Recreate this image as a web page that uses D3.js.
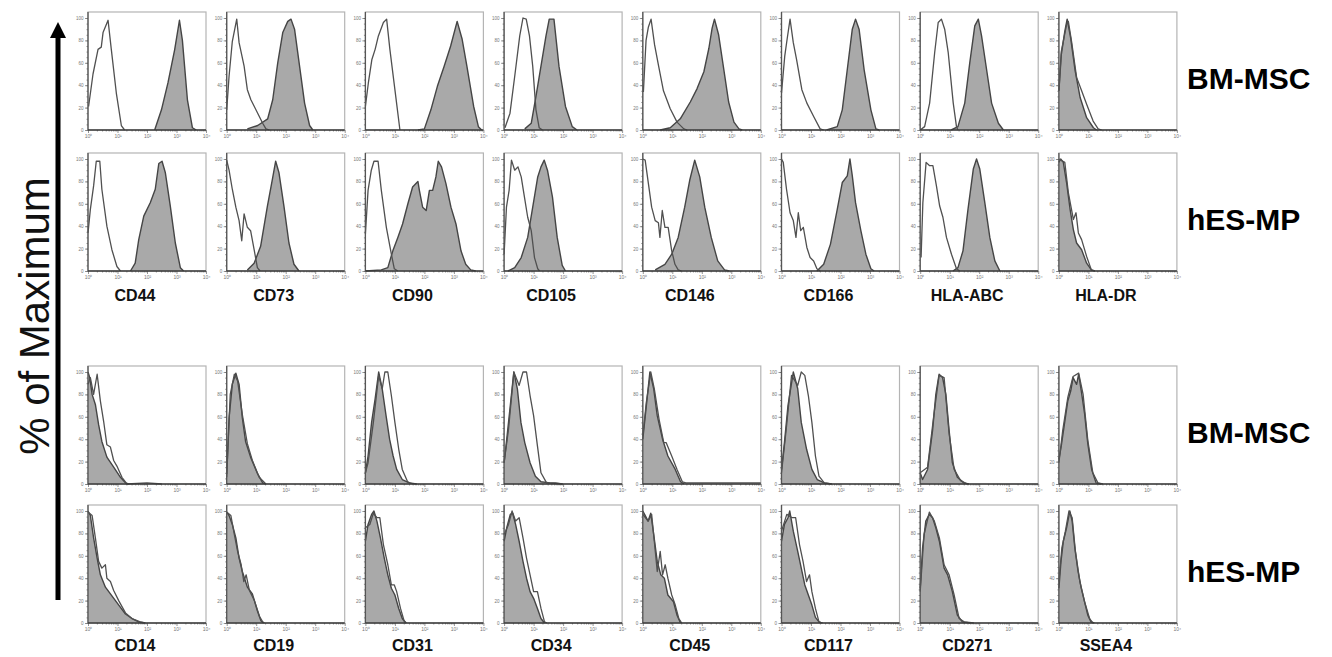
<!DOCTYPE html>
<html>
<head>
<meta charset="utf-8">
<script src="https://cdn.jsdelivr.net/npm/d3@7"></script>
<style>
  body { margin: 0; background: #fff; }
  svg { display: block; }
</style>
</head>
<body>
<div id="chart"></div>
<script>
const TOP_MARKERS = ["CD44", "CD73", "CD90", "CD105", "CD146", "CD166", "HLA-ABC", "HLA-DR"];
const BOTTOM_MARKERS = ["CD14", "CD19", "CD31", "CD34", "CD45", "CD117", "CD271", "SSEA4"];
const ROW_LABELS = ["BM-MSC", "hES-MP", "BM-MSC", "hES-MP"];
const Y_TICKS = [0, 20, 40, 60, 80, 100];
const X_TICKS = [0, 1, 2, 3, 4];
const X_TICK_LABELS = ["10\u2070", "10\u00b9", "10\u00b2", "10\u00b3", "10\u2074"];

// each histogram: [log10 fluorescence, % of max]
const bmTopStained = [
  [[2.26,0],[2.49,18],[2.71,42],[2.94,72],[3.1,98],[3.2,80],[3.37,27],[3.54,2],[3.67,0]],
  [[0.7,1],[1.05,4],[1.39,10],[1.56,27],[1.73,60],[1.9,87],[2.07,97],[2.18,99],[2.3,90],[2.47,57],[2.64,24],[2.81,4],[2.92,0]],
  [[1.78,0],[2,1],[2.22,18],[2.44,39],[2.67,57],[2.89,75],[3.11,97],[3.28,81],[3.44,57],[3.67,21],[3.83,3],[3.94,0]],
  [[0.7,1],[0.92,6],[1.08,30],[1.25,57],[1.42,84],[1.53,99],[1.69,99],[1.86,57],[2.08,21],[2.31,3],[2.47,0]],
  [[0.59,0],[0.93,2],[1.27,10],[1.61,25],[1.84,37],[2.07,52],[2.24,73],[2.35,91],[2.43,99],[2.57,85],[2.74,55],[2.91,25],[3.09,7],[3.26,1],[3.37,0]],
  [[1.53,0],[1.89,3],[2.06,18],[2.23,54],[2.4,90],[2.51,99],[2.63,90],[2.8,54],[3.03,18],[3.2,1],[3.31,0]],
  [[1.05,0],[1.28,3],[1.51,24],[1.68,60],[1.85,93],[1.97,99],[2.08,84],[2.25,54],[2.42,24],[2.65,6],[2.82,0]],
  [[0,35],[0.08,67],[0.2,88],[0.28,99],[0.4,82],[0.55,53],[0.72,29],[0.94,11],[1.17,2],[1.28,0]]
];
const bmTopIsotype = [
  [[0.02,21],[0.17,50],[0.34,72],[0.45,74],[0.51,87],[0.68,98],[0.79,72],[0.96,33],[1.13,4],[1.24,0]],
  [[0,18],[0.08,48],[0.19,79],[0.34,99],[0.42,78],[0.59,57],[0.7,36],[0.82,27],[1.05,15],[1.22,6],[1.33,1],[1.45,0]],
  [[0,21],[0.1,42],[0.22,63],[0.33,72],[0.44,84],[0.61,96],[0.72,99],[0.83,72],[1,36],[1.17,0]],
  [[0.03,2],[0.2,15],[0.36,48],[0.53,84],[0.64,100],[0.75,99],[0.86,84],[0.97,57],[1.08,18],[1.19,2],[1.3,0]],
  [[0.02,34],[0.11,80],[0.19,92],[0.28,99],[0.4,76],[0.53,58],[0.7,35],[0.93,19],[1.16,7],[1.39,1],[1.5,0]],
  [[0,33],[0.11,66],[0.19,81],[0.29,99],[0.4,78],[0.51,63],[0.69,36],[0.86,24],[1.09,12],[1.31,1],[1.43,0]],
  [[0,0],[0.15,3],[0.32,24],[0.49,69],[0.61,96],[0.72,99],[0.83,90],[0.95,69],[1.12,24],[1.23,3],[1.28,0]],
  [[0,35],[0.08,70],[0.26,94],[0.32,97],[0.43,79],[0.6,47],[0.77,35],[0.94,23],[1.16,8],[1.33,1],[1.45,0]]
];
const esTopStained = [
  [[1.44,0],[1.6,7],[1.72,28],[1.89,49],[2.11,61],[2.28,73],[2.4,96],[2.51,98],[2.62,88],[2.79,58],[2.96,25],[3.13,3],[3.24,0]],
  [[0.7,1],[0.93,7],[1.15,22],[1.38,58],[1.55,82],[1.66,98],[1.77,88],[1.94,58],[2.11,25],[2.28,6],[2.45,0]],
  [[0,0],[0.54,1],[0.76,3],[0.93,18],[1.1,30],[1.26,42],[1.44,60],[1.6,75],[1.78,80],[1.83,72],[1.94,57],[2.06,54],[2.17,72],[2.28,72],[2.39,84],[2.47,98],[2.58,93],[2.73,78],[2.9,57],[3.07,42],[3.24,18],[3.4,6],[3.57,1],[3.74,0]],
  [[0.13,0],[0.36,3],[0.58,12],[0.8,30],[0.97,57],[1.14,84],[1.25,93],[1.36,99],[1.47,90],[1.64,66],[1.8,30],[1.97,5],[2.08,0]],
  [[0.42,1],[0.75,6],[0.98,15],[1.2,30],[1.42,57],[1.59,81],[1.76,99],[1.93,84],[2.1,57],[2.32,30],[2.54,9],[2.77,1],[2.93,0]],
  [[1.2,0],[1.43,6],[1.66,24],[1.89,55],[2.06,79],[2.23,85],[2.32,100],[2.4,85],[2.51,61],[2.69,36],[2.86,15],[3.03,2],[3.14,0]],
  [[1.11,0],[1.28,3],[1.45,18],[1.62,55],[1.8,91],[1.91,100],[2.02,91],[2.19,61],[2.36,30],[2.53,9],[2.7,0]],
  [[0,97],[0.06,100],[0.15,97],[0.26,79],[0.38,55],[0.49,37],[0.6,25],[0.77,19],[0.94,7],[1.1,1],[1.22,0]]
];
const esTopIsotype = [
  [[0,34],[0.08,55],[0.19,76],[0.28,98],[0.4,98],[0.47,73],[0.64,40],[0.81,19],[0.98,4],[1.1,0]],
  [[0,99],[0.08,90],[0.19,73],[0.31,57],[0.42,45],[0.51,27],[0.59,51],[0.7,39],[0.81,36],[0.93,19],[1.04,3],[1.13,0]],
  [[0,33],[0.09,72],[0.2,90],[0.29,98],[0.43,98],[0.54,72],[0.71,39],[0.88,15],[0.98,2],[1.1,0]],
  [[0,15],[0.08,57],[0.17,72],[0.25,99],[0.36,90],[0.47,93],[0.58,84],[0.69,66],[0.8,48],[0.92,36],[1.03,12],[1.14,2],[1.2,0]],
  [[0,100],[0.08,99],[0.19,78],[0.3,57],[0.42,45],[0.53,43],[0.58,30],[0.66,54],[0.75,39],[0.86,39],[0.98,18],[1.09,6],[1.2,1],[1.31,0]],
  [[0,100],[0.06,97],[0.17,73],[0.29,52],[0.4,45],[0.49,30],[0.57,52],[0.65,36],[0.74,39],[0.86,21],[0.97,12],[1.09,9],[1.2,2],[1.31,0]],
  [[0.03,12],[0.09,61],[0.2,97],[0.32,94],[0.43,94],[0.55,76],[0.66,58],[0.77,48],[0.89,30],[1.06,15],[1.23,2],[1.34,0]],
  [[0,100],[0.2,97],[0.32,70],[0.49,46],[0.58,52],[0.66,34],[0.77,28],[0.94,13],[1.1,1],[1.22,0]]
];
const bmBottomStained = [
  [[0,100],[0.06,95],[0.14,80],[0.25,71],[0.36,53],[0.47,38],[0.64,24],[0.87,15],[1.1,6],[1.27,1],[1.38,0]],
  [[0,9],[0.08,59],[0.19,89],[0.31,99],[0.42,89],[0.53,59],[0.64,38],[0.81,24],[1.05,9],[1.22,1],[1.33,0]],
  [[0,10],[0.09,25],[0.21,55],[0.33,76],[0.45,100],[0.57,85],[0.7,61],[0.82,40],[0.94,25],[1.06,13],[1.25,4],[1.49,1],[1.74,0]],
  [[0,19],[0.09,40],[0.21,70],[0.33,100],[0.45,85],[0.57,55],[0.7,37],[0.88,19],[1.06,7],[1.25,2],[1.55,1],[1.98,0]],
  [[0,40],[0.12,70],[0.24,100],[0.37,85],[0.49,61],[0.67,40],[0.85,25],[1.1,13],[1.28,2],[1.4,0]],
  [[0,13],[0.1,37],[0.22,70],[0.4,100],[0.55,85],[0.67,55],[0.85,31],[1.03,13],[1.21,4],[1.45,1],[1.7,0]],
  [[0,10],[0.08,4],[0.25,13],[0.42,48],[0.53,80],[0.64,98],[0.76,95],[0.87,80],[0.98,48],[1.09,19],[1.26,6],[1.48,1],[1.65,0]],
  [[0,22],[0.08,34],[0.19,54],[0.3,74],[0.4,83],[0.48,95],[0.6,89],[0.67,98],[0.76,83],[0.87,63],[0.98,36],[1.11,13],[1.26,1],[1.43,0]]
];
const bmBottomIsotype = [
  [[0,89],[0.08,95],[0.19,80],[0.31,98],[0.42,74],[0.53,56],[0.64,35],[0.76,33],[0.87,21],[0.98,16],[1.15,6],[1.32,0],[2,1],[2.5,0]],
  [[0,6],[0.12,80],[0.26,98],[0.37,92],[0.53,62],[0.7,36],[0.87,21],[1.1,6],[1.33,0]],
  [[0,10],[0.09,19],[0.27,55],[0.45,97],[0.57,85],[0.66,100],[0.76,100],[0.88,79],[1,55],[1.13,31],[1.25,13],[1.43,2],[1.61,0]],
  [[0,19],[0.15,49],[0.33,100],[0.51,88],[0.64,100],[0.76,100],[0.88,79],[1,61],[1.13,34],[1.25,10],[1.44,1],[1.74,1],[1.98,0]],
  [[0,43],[0.12,73],[0.27,100],[0.39,85],[0.55,58],[0.71,37],[0.79,37],[0.98,25],[1.16,13],[1.34,2],[1.46,1],[4,1]],
  [[0,10],[0.16,49],[0.34,97],[0.55,88],[0.67,100],[0.79,97],[0.91,79],[1.03,55],[1.15,25],[1.27,7],[1.45,1],[1.7,0]],
  [[0,10],[0.25,15],[0.47,63],[0.64,97],[0.81,95],[0.98,45],[1.15,13],[1.37,3],[1.6,0]],
  [[0,19],[0.13,48],[0.3,77],[0.48,96],[0.67,99],[0.82,80],[0.98,39],[1.15,10],[1.32,1],[1.49,0]]
];
const esBottomStained = [
  [[0,100],[0.08,96],[0.19,76],[0.31,58],[0.42,43],[0.59,32],[0.76,26],[0.93,20],[1.1,14],[1.27,8],[1.49,4],[1.72,1],[1.94,0]],
  [[0,99],[0.08,96],[0.19,88],[0.31,76],[0.42,58],[0.53,46],[0.7,32],[0.87,26],[1.04,11],[1.16,2],[1.25,0]],
  [[0,73],[0.09,88],[0.21,97],[0.29,100],[0.39,91],[0.51,76],[0.64,58],[0.76,43],[0.88,31],[1,25],[1.13,13],[1.25,4],[1.37,0]],
  [[0,73],[0.09,85],[0.21,97],[0.29,98],[0.39,88],[0.51,73],[0.64,55],[0.76,40],[0.88,28],[1,22],[1.13,13],[1.25,4],[1.37,0]],
  [[0,100],[0.06,97],[0.18,91],[0.27,98],[0.37,79],[0.49,55],[0.61,43],[0.73,40],[0.85,25],[1.04,19],[1.16,7],[1.28,0]],
  [[0,73],[0.1,88],[0.22,94],[0.28,100],[0.4,82],[0.55,64],[0.67,49],[0.79,34],[0.91,25],[1.03,16],[1.15,5],[1.27,1],[1.36,0]],
  [[0,31],[0.08,67],[0.19,91],[0.31,97],[0.42,94],[0.53,85],[0.65,73],[0.81,49],[0.93,43],[1.09,28],[1.26,7],[1.43,1],[1.71,0]],
  [[0,31],[0.07,55],[0.15,73],[0.26,85],[0.37,100],[0.45,91],[0.54,67],[0.65,46],[0.76,31],[0.87,19],[0.98,7],[1.09,1],[1.2,0]]
];
const esBottomIsotype = [
  [[0,99],[0.14,96],[0.25,76],[0.36,55],[0.47,49],[0.59,52],[0.64,40],[0.76,37],[0.87,29],[1.04,20],[1.27,9],[1.49,4],[1.77,1],[1.94,0]],
  [[0,99],[0.14,96],[0.26,79],[0.37,64],[0.49,52],[0.58,37],[0.66,43],[0.77,29],[0.94,20],[1.11,6],[1.22,1],[1.28,0]],
  [[0,85],[0.15,88],[0.27,98],[0.39,94],[0.49,94],[0.61,70],[0.76,52],[0.88,34],[0.98,34],[1.06,28],[1.19,13],[1.31,2],[1.39,0]],
  [[0,79],[0.15,88],[0.27,100],[0.39,91],[0.51,94],[0.64,76],[0.76,58],[0.88,43],[1,28],[1.13,28],[1.25,13],[1.37,1],[1.45,0]],
  [[0,97],[0.18,91],[0.3,97],[0.39,73],[0.49,46],[0.59,64],[0.67,43],[0.76,52],[0.85,40],[0.98,25],[1.1,16],[1.22,4],[1.32,0]],
  [[0,82],[0.18,97],[0.36,94],[0.48,94],[0.61,70],[0.73,55],[0.85,37],[0.95,43],[1.03,28],[1.15,13],[1.27,1],[1.4,0]],
  [[0,28],[0.13,79],[0.31,99],[0.48,91],[0.65,76],[0.81,52],[0.98,43],[1.15,25],[1.32,4],[1.49,1],[1.82,0]],
  [[0,37],[0.1,67],[0.22,82],[0.34,100],[0.45,94],[0.56,64],[0.71,37],[0.87,19],[1.04,4],[1.15,0]]
];

// layout
var W = 1332, H = 657;
var colX0 = 88, colStep = 138.7;
var panelW = 118, panelH = 118;
var rowTops = [12, 153, 366, 505];
var rows = [
  {stained: bmTopStained, iso: bmTopIsotype},
  {stained: esTopStained, iso: esTopIsotype},
  {stained: bmBottomStained, iso: bmBottomIsotype},
  {stained: esBottomStained, iso: esBottomIsotype}
];
var FILL_GREY = "#a9a9a9";
var LINE_GREY = "#454545";

var svg = d3.select("#chart")
  .append("svg")
    .attr("width", W)
    .attr("height", H)
    .style("font-family", "'Liberation Sans', Arial, sans-serif");

var x = d3.scaleLinear().domain([0, 4]).range([0, panelW]);
var y = d3.scaleLinear().domain([0, 100]).range([panelH, 6]);

var area = d3.area()
  .x(function(d) { return x(d[0]); })
  .y0(y(0))
  .y1(function(d) { return y(Math.min(d[1], 100)); });
var line = d3.line()
  .x(function(d) { return x(d[0]); })
  .y(function(d) { return y(Math.min(d[1], 100)); });

// minor log ticks inside each decade
var minorX = [];
for (var dec = 0; dec < 4; dec++) {
  for (var k = 2; k < 10; k++) minorX.push(dec + Math.log10(k));
}

rows.forEach(function(row, r) {
  row.stained.forEach(function(st, c) {
    var g = svg.append("g")
      .attr("transform", "translate(" + (colX0 + c * colStep) + "," + rowTops[r] + ")");

    // frame
    g.append("rect")
      .attr("width", panelW)
      .attr("height", panelH)
      .attr("fill", "#fff")
      .attr("stroke", "#b4b4b4")
      .attr("stroke-width", 1.2);

    // stained sample (filled)
    g.append("path")
      .datum(st)
      .attr("d", area)
      .attr("fill", FILL_GREY);
    g.append("path")
      .datum(st)
      .attr("d", line)
      .attr("fill", "none")
      .attr("stroke", LINE_GREY)
      .attr("stroke-width", 1.4)
      .attr("stroke-linejoin", "round");

    // isotype control (open)
    g.append("path")
      .datum(row.iso[c])
      .attr("d", line)
      .attr("fill", "none")
      .attr("stroke", "#505050")
      .attr("stroke-width", 1.3)
      .attr("stroke-linejoin", "round");

    // y axis
    var ya = g.append("g")
      .call(d3.axisLeft(y).tickValues(d3.range(0, 101, 5)).tickSize(1.5).tickFormat(""));
    ya.select(".domain").remove();
    var yMajor = g.append("g")
      .call(d3.axisLeft(y).tickValues(Y_TICKS).tickSize(3).tickPadding(1.5));
    yMajor.select(".domain").remove();
    yMajor.selectAll("text").attr("font-size", 4.5).attr("fill", "#777");
    g.selectAll(".tick line").attr("stroke", "#666").attr("stroke-width", 0.7);

    // x axis
    var xa = g.append("g")
      .attr("transform", "translate(0," + panelH + ")")
      .call(d3.axisBottom(x).tickValues(minorX).tickSize(1.5).tickFormat(""));
    xa.select(".domain").remove();
    var xMajor = g.append("g")
      .attr("transform", "translate(0," + panelH + ")")
      .call(d3.axisBottom(x).tickValues(X_TICKS).tickSize(3).tickPadding(1.5)
        .tickFormat(function(d, i) { return X_TICK_LABELS[i]; }));
    xMajor.select(".domain").remove();
    xMajor.selectAll("text").attr("font-size", 5).attr("fill", "#777");
    g.selectAll(".tick line").attr("stroke", "#666").attr("stroke-width", 0.7);

    // dark axis lines
    g.append("line")
      .attr("x1", 0).attr("x2", 0).attr("y1", 0).attr("y2", panelH)
      .attr("stroke", "#555").attr("stroke-width", 1.3);
    g.append("line")
      .attr("x1", 0).attr("x2", panelW).attr("y1", panelH).attr("y2", panelH)
      .attr("stroke", "#3a3a3a").attr("stroke-width", 1.5);
  });

  // row label
  svg.append("text")
    .attr("x", 1187)
    .attr("y", rowTops[r] + 77)
    .attr("font-size", 30)
    .attr("font-weight", "bold")
    .attr("fill", "#000")
    .text(ROW_LABELS[r]);
});

// marker names under rows 2 and 4
[[TOP_MARKERS, 301], [BOTTOM_MARKERS, 651]].forEach(function(set) {
  svg.append("g").selectAll("text")
    .data(set[0])
    .enter()
    .append("text")
      .attr("x", function(d, i) { return colX0 + i * colStep + panelW / 2 - 12; })
      .attr("y", set[1])
      .attr("text-anchor", "middle")
      .attr("font-size", 16)
      .attr("font-weight", "bold")
      .attr("fill", "#111")
      .text(function(d) { return d; });
});

// y title with arrow
svg.append("text")
  .attr("transform", "translate(49,316) rotate(-90)")
  .attr("text-anchor", "middle")
  .attr("font-size", 42)
  .attr("fill", "#111")
  .text("% of Maximum");

svg.append("line")
  .attr("x1", 58).attr("x2", 58)
  .attr("y1", 600).attr("y2", 34)
  .attr("stroke", "#000")
  .attr("stroke-width", 5);
svg.append("path")
  .attr("d", "M50,38 L58,22 L66,38 Z")
  .attr("fill", "#000");
</script>
</body>
</html>
